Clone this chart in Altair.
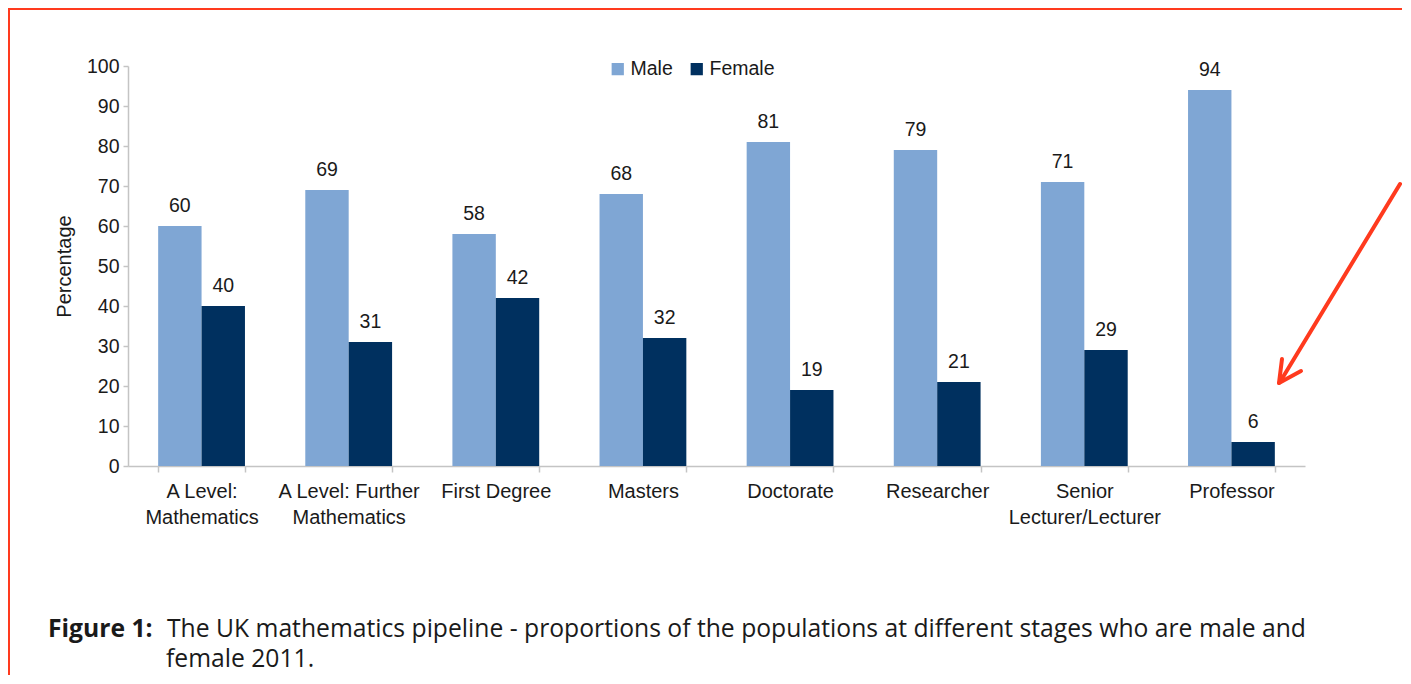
import altair as alt
import pandas as pd

categories = [
    "A Level:\nMathematics",
    "A Level: Further\nMathematics",
    "First Degree",
    "Masters",
    "Doctorate",
    "Researcher",
    "Senior\nLecturer/Lecturer",
    "Professor",
]
male = [60, 69, 58, 68, 81, 79, 71, 94]
female = [40, 31, 42, 32, 19, 21, 29, 6]
series = ["Male", "Female"]
colors = ["#7FA6D4", "#00305F"]
y_ticks = list(range(0, 101, 10))
caption_bold = "Figure 1:"
caption_line1 = "The UK mathematics pipeline - proportions of the populations at different stages who are male and"
caption_line2 = "female 2011."

rows = []
for c, m, f in zip(categories, male, female):
    rows.append({"stage": c, "sex": "Male", "value": m})
    rows.append({"stage": c, "sex": "Female", "value": f})
df = pd.DataFrame(rows)

FONT = "Liberation Sans"
W, H = 1177, 400

x_enc = alt.X(
    "stage:N",
    sort=categories,
    scale=alt.Scale(paddingInner=0.41, paddingOuter=0.205),
    axis=alt.Axis(
        title=None,
        labelAngle=0,
        tickBand="extent",
        labelExpr="split(datum.label, '\\n')",
        labelFontSize=20,
        labelLineHeight=26,
        labelPadding=9,
        labelColor="#1a1a1a",
        labelFont=FONT,
        domainColor="#c4c4c4",
        domainWidth=1.5,
        tickColor="#c4c4c4",
        tickWidth=1.5,
        tickSize=6,
    ),
)
y_enc = alt.Y(
    "value:Q",
    scale=alt.Scale(domain=[0, 100], nice=False),
    axis=alt.Axis(
        title="Percentage",
        values=y_ticks,
        titleFontSize=20,
        titleFontWeight="normal",
        titleFont=FONT,
        titleColor="#1a1a1a",
        titlePadding=12,
        labelFontSize=19.5,
        labelFont=FONT,
        labelColor="#1a1a1a",
        labelPadding=4,
        domainColor="#c4c4c4",
        domainWidth=1.5,
        tickColor="#c4c4c4",
        tickWidth=1.5,
        tickSize=5,
        grid=False,
    ),
)
xoff = alt.XOffset("sex:N", sort=series)

bars = alt.Chart(df).mark_bar().encode(
    x=x_enc,
    xOffset=xoff,
    y=y_enc,
    color=alt.Color(
        "sex:N",
        sort=series,
        scale=alt.Scale(domain=series, range=colors),
        legend=alt.Legend(
            title=None,
            orient="none",
            direction="horizontal",
            legendX=480,
            legendY=-7,
            symbolType="square",
            symbolSize=150,
            symbolStrokeWidth=0,
            labelFontSize=19.5,
            labelFont=FONT,
            labelColor="#1a1a1a",
            labelOffset=3,
            columnPadding=14,
            padding=0,
        ),
    ),
)

labels = alt.Chart(df).mark_text(
    fontSize=19.5, font=FONT, color="#1a1a1a", dy=-14, baseline="alphabetic"
).encode(x=x_enc, xOffset=xoff, y=y_enc, text=alt.Text("value:Q"))

one = pd.DataFrame({"d": [0]})
RED = "#FF3A1E"


def seg(x1, y1, x2, y2, width, color=RED):
    return alt.Chart(one).mark_rule(
        color=color, strokeWidth=width, strokeCap="round"
    ).encode(x=alt.value(x1), y=alt.value(y1), x2=alt.value(x2), y2=alt.value(y2))


border_top = seg(-120, -57, 1400, -57, 2)
border_left = seg(-119, -57, -119, 640, 2)
arrow_shaft = seg(1272, 118, 1152, 316, 4)
arrow_b1 = seg(1151, 317, 1154, 293, 4)
arrow_b2 = seg(1151, 317, 1173, 305, 4)


def txt(s, x, y, weight="normal"):
    return alt.Chart(one).mark_text(
        text=s,
        align="left",
        baseline="alphabetic",
        fontSize=24.7,
        font="Open Sans",
        fontWeight=weight,
        color="#1a1a1a",
    ).encode(x=alt.value(x), y=alt.value(y))


cap1 = txt(caption_bold, -80, 571, "bold")
cap2 = txt(caption_line1, 39, 571)
cap3 = txt(caption_line2, 38, 601)

chart = alt.layer(
    bars, labels, border_top, border_left, arrow_shaft, arrow_b1, arrow_b2, cap1, cap2, cap3
).properties(
    width=W,
    height=H,
    autosize=alt.AutoSizeParams(type="none"),
    padding={"left": 120, "top": 58, "right": 97, "bottom": 209},
).configure_view(stroke=None)

chart.save("out.html", embed_options={"renderer": "svg", "actions": False})
